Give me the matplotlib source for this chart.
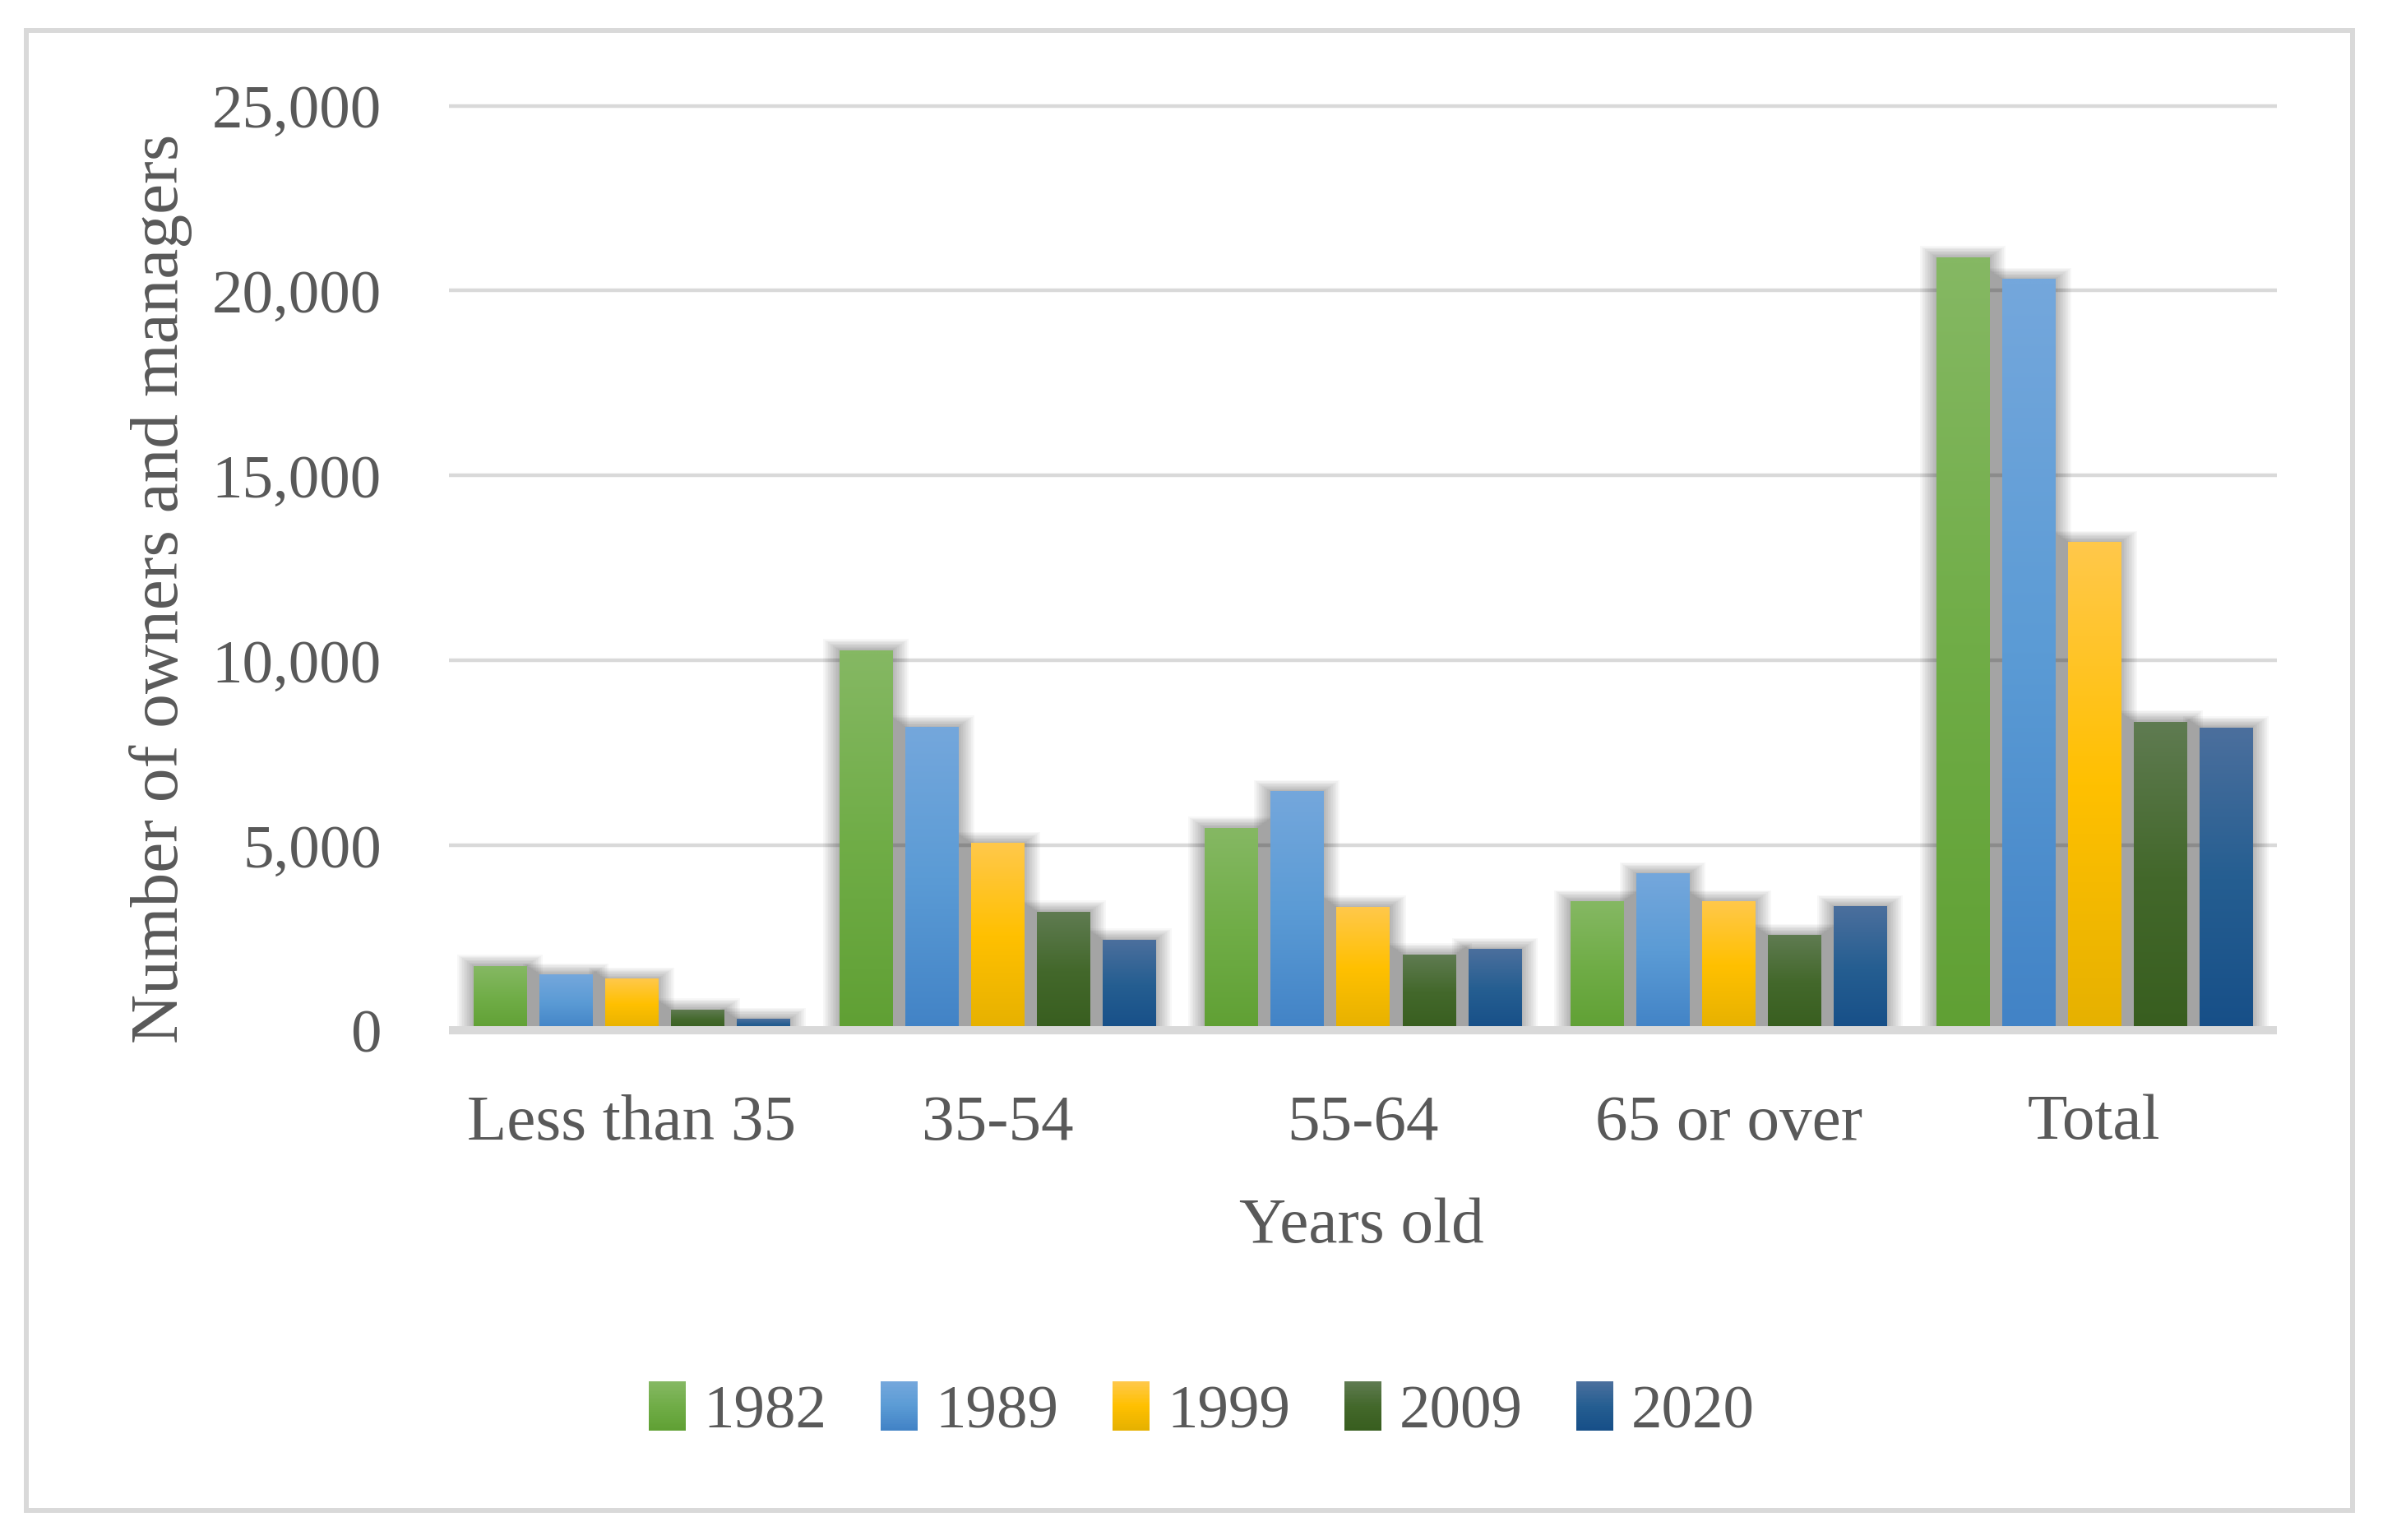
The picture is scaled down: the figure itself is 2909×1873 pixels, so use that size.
import numpy as np
import matplotlib
matplotlib.use("Agg")
import matplotlib.pyplot as plt
from matplotlib.colors import to_rgb
from matplotlib.patches import Rectangle
from matplotlib.legend_handler import HandlerBase

# ---- data ----
categories = ["Less than 35", "35-54", "55-64", "65 or over", "Total"]
years = ["1982", "1989", "1999", "2009", "2020"]
v1982 = [1730, 10270, 5470, 3480, 20900]
v1989 = [1500, 8200, 6450, 4230, 20310]
v1999 = [1380, 5050, 3330, 3480, 13200]
v2009 = [550, 3200, 2040, 2560, 8340]
v2020 = [290, 2440, 2180, 3340, 8180]
series = [v1982, v1989, v1999, v2009, v2020]

# gradient stops (top, middle, bottom) per year
stops = [
    ("#85b863", "#70ad47", "#60a034"),
    ("#74a7dc", "#5b9bd5", "#4283c6"),
    ("#ffc84a", "#ffc000", "#e6b100"),
    ("#5f7b51", "#43682b", "#385e1f"),
    ("#4b6f9d", "#255e91", "#174f88"),
]

TXT = "#595959"
GRID = "#d9d9d9"
plt.rcParams["font.family"] = ["Liberation Serif", "DejaVu Serif"]
FS = 54      # digits
FS_TXT = 57  # words (reference face is a bit wider than Liberation Serif)


def grad(st, n=64):
    c = [np.array(to_rgb(s)) for s in st]
    t = np.linspace(0, 1, n)
    out = np.zeros((n, 1, 3))
    for i, tt in enumerate(t):
        if tt < 0.5:
            out[i, 0] = c[0] + (c[1] - c[0]) * (tt / 0.5)
        else:
            out[i, 0] = c[1] + (c[2] - c[1]) * ((tt - 0.5) / 0.5)
    return out


class GradHandler(HandlerBase):
    def __init__(self, st):
        super().__init__()
        self.st = st

    def create_artists(self, legend, orig_handle, xdescent, ydescent,
                       width, height, fontsize, trans):
        n = 24
        cols = grad(self.st, n)
        arts = []
        for i in range(n):
            y0 = -ydescent + height * (1 - (i + 1) / n)
            arts.append(Rectangle((-xdescent, y0), width, height / n * 1.05,
                                  facecolor=cols[i, 0], edgecolor="none",
                                  transform=trans))
        return arts


W, H = 2909, 1874
fig = plt.figure(figsize=(W / 100, H / 100), dpi=100)

# axes placement from pixel positions in the reference
x0, x1 = 546, 2769
ppu = (1253.6 - 129.5) / 25000.0
ylo, yhi = -300, 25300
ybot = 1253.6 + 300 * ppu
ytop = 129.5 - 300 * ppu
ax = fig.add_axes([x0 / W, 1 - ybot / H, (x1 - x0) / W, (ybot - ytop) / H])

x = np.arange(len(categories))
pitch = 0.18
bw = 0.144

for k, vals in enumerate(series):
    g = grad(stops[k])
    for i, v in enumerate(vals):
        cx = x[i] + (k - 2) * pitch
        l, r = cx - bw / 2, cx + bw / 2
        # soft shadow
        for s in range(1, 11):
            dx = 0.0045 * s
            dy = 30 * s
            ax.add_patch(Rectangle((l - dx, 0), bw + 2 * dx, v + dy,
                                   facecolor="black", edgecolor="none",
                                   alpha=0.03, zorder=2))
        ax.imshow(g, extent=(l, r, 0, v), aspect="auto", zorder=3,
                  interpolation="bilinear")

ax.set_xlim(-0.5, 4.5)
ax.set_ylim(ylo, yhi)
ax.set_yticks(np.arange(0, 25001, 5000))
ax.set_yticklabels([f"{t:,}" for t in range(0, 25001, 5000)])
ax.set_xticks(x)
ax.set_xticklabels(categories, fontsize=FS_TXT)
ax.grid(axis="y", color=GRID, linewidth=3.2, zorder=0)
ax.set_axisbelow(True)
ax.axhline(0, color=GRID, linewidth=7.2, zorder=5)
for sp in ax.spines.values():
    sp.set_visible(False)
ax.tick_params(axis="both", length=0, colors=TXT)
ax.tick_params(axis="y", pad=59, labelsize=FS)
ax.tick_params(axis="x", pad=46)

fig.text(1656 / W, 1 - 1492 / H, "Years old", ha="center", va="center",
         fontsize=FS_TXT, color=TXT)
fig.text(196 / W, 1 - 716 / H, "Number of owners and managers", rotation=90,
         ha="center", va="center", fontsize=60, color=TXT)

handles = [Rectangle((0, 0), 1, 1) for _ in years]
hmap = {h: GradHandler(stops[k]) for k, h in enumerate(handles)}
fig.legend(handles, years, handler_map=hmap, loc="center",
           bbox_to_anchor=(1461 / W, 1 - 1717 / H), ncol=5, frameon=False,
           fontsize=FS, labelcolor=TXT, handlelength=0.61, handleheight=0.85,
           handletextpad=0.28, columnspacing=0.87)

# outer frame
fig.patches.append(Rectangle((31.5 / W, 1 - 1838 / H), (2861 - 31.5) / W,
                             (1838 - 38) / H, transform=fig.transFigure,
                             fill=False, edgecolor=GRID, linewidth=4.3))

fig.savefig("out.png", dpi=100, facecolor="white")
